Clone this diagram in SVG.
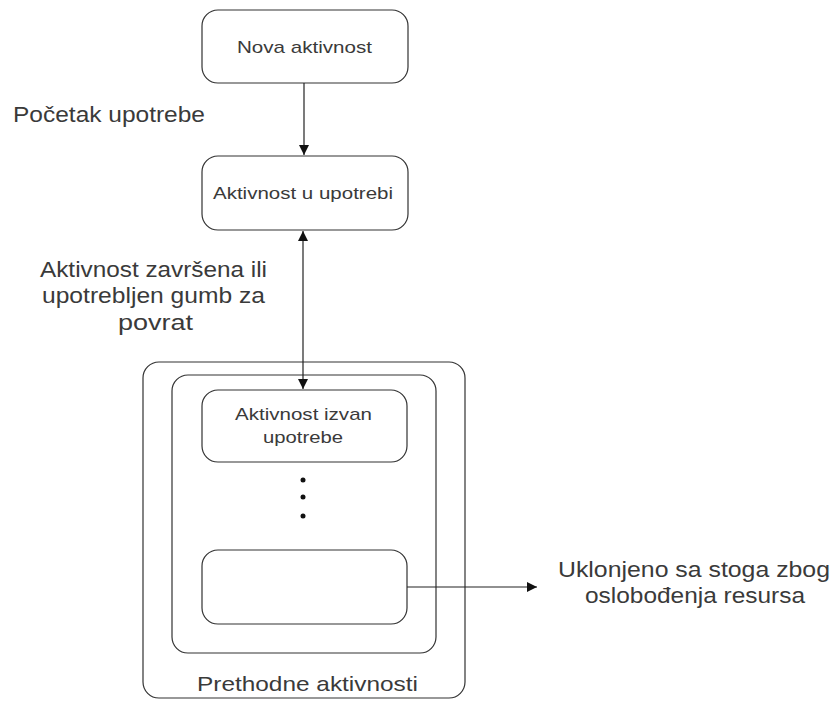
<svg xmlns="http://www.w3.org/2000/svg" width="832" height="708" viewBox="0 0 832 708">
<style>
.box{fill:#fff;stroke:#333;stroke-width:1.2}
.t{font-family:"Liberation Sans",Arial,sans-serif;fill:#3a3a3a}
.s{font-size:17px}
.l{font-size:22px}
.c{stroke:#222;stroke-width:1.2;fill:none}
</style>
<defs>
<marker id="ah" markerWidth="12" markerHeight="12" refX="10" refY="5" orient="auto-start-reverse" markerUnits="userSpaceOnUse">
<path d="M0,0 L10,5 L0,10 Z" fill="#111"/>
</marker>
</defs>
<rect width="832" height="708" fill="#fff"/>
<g id="prethodne">
<rect class="box" x="143" y="362" width="322" height="336" rx="16"/>
<text class="t" x="197" y="691" font-size="21" textLength="221" lengthAdjust="spacingAndGlyphs">Prethodne aktivnosti</text>
</g>
<g id="stack">
<rect class="box" x="172" y="375" width="264" height="278" rx="16"/>
</g>
<g id="nova">
<rect class="box" x="202" y="10" width="206" height="73" rx="16"/>
<text class="t s" x="237" y="53" textLength="135" lengthAdjust="spacingAndGlyphs">Nova aktivnost</text>
</g>
<g id="uupotrebi">
<rect class="box" x="202" y="156" width="206" height="74" rx="16"/>
<text class="t s" x="213" y="199" textLength="180" lengthAdjust="spacingAndGlyphs">Aktivnost u upotrebi</text>
</g>
<g id="izvan">
<rect class="box" x="202" y="390" width="205" height="72" rx="16"/>
<text class="t s" x="235" y="420" textLength="137" lengthAdjust="spacingAndGlyphs">Aktivnost izvan</text>
<text class="t s" x="263" y="443" textLength="80" lengthAdjust="spacingAndGlyphs">upotrebe</text>
</g>
<g id="dots" fill="#111">
<circle cx="303" cy="480" r="2.5"/>
<circle cx="303" cy="497" r="2.5"/>
<circle cx="303" cy="516" r="2.5"/>
</g>
<g id="last">
<rect class="box" x="202" y="550" width="205" height="74" rx="16"/>
</g>
<g id="connectors">
<line class="c" x1="304" y1="83" x2="304" y2="155" marker-end="url(#ah)"/>
<line class="c" x1="303" y1="231" x2="303" y2="389" marker-start="url(#ah)" marker-end="url(#ah)"/>
<line class="c" x1="407" y1="587" x2="537" y2="587" marker-end="url(#ah)"/>
</g>
<g id="labels">
<text class="t l" x="13" y="122" textLength="192" lengthAdjust="spacingAndGlyphs">Početak upotrebe</text>
<text class="t l" x="40" y="277" textLength="227" lengthAdjust="spacingAndGlyphs">Aktivnost završena ili</text>
<text class="t l" x="42" y="303" textLength="223" lengthAdjust="spacingAndGlyphs">upotrebljen gumb za</text>
<text class="t l" x="118" y="330" textLength="75" lengthAdjust="spacingAndGlyphs">povrat</text>
<text class="t l" x="558" y="577" textLength="272" lengthAdjust="spacingAndGlyphs">Uklonjeno sa stoga zbog</text>
<text class="t l" x="585" y="603" textLength="220" lengthAdjust="spacingAndGlyphs">oslobođenja resursa</text>
</g>
</svg>
